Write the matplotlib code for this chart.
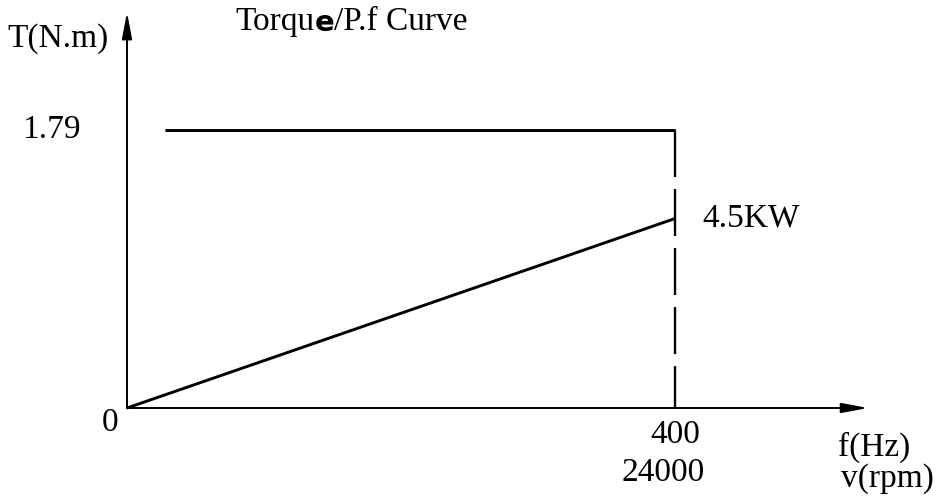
import matplotlib
matplotlib.use("Agg")
import matplotlib.pyplot as plt

# chart values
freq_hz = [0, 400]              # frequency axis marks
rpm_label = "24000"             # speed at 400 Hz
torque_x = [28, 400]            # constant torque segment (Hz)
torque_y = [1.79, 1.79]         # N.m
power_x = [0, 400]              # power line (Hz)
power_y = [0, 1.22]             # drawn in torque units
rated_power = "4.5KW"

# pixel scale of the drawing
px_hz = 548 / 400
px_nm = 278 / 1.79
W, H = 938, 497
ox, oy = 127, 408               # origin in pixels

fig = plt.figure(figsize=(W / 100, H / 100), dpi=100)
ax = fig.add_axes([0, 0, 1, 1])
ax.set_xlim(-ox / px_hz, (W - ox) / px_hz)
ax.set_ylim(-(H - oy) / px_nm, oy / px_nm)
ax.axis("off")

fnt = dict(family="Liberation Serif", size=24, color="black")

# axes with arrow heads
arrow = dict(arrowstyle="-|>,head_length=1.6,head_width=0.3", color="black",
             lw=1.4, shrinkA=0, shrinkB=0, mutation_scale=10)
ax.annotate("", xy=(0, 2.55), xytext=(0, 0), arrowprops=arrow)
ax.annotate("", xy=(541, 0), xytext=(0, 0), arrowprops=arrow)

# curves
ax.plot(torque_x, torque_y, color="black", lw=2.1, solid_capstyle="butt")
ax.plot([freq_hz[1], freq_hz[1]], [torque_y[1], 0], color="black", lw=1.7,
        dashes=(19.9, 5.1))
ax.plot(power_x, power_y, color="black", lw=2.1, solid_capstyle="butt")

# labels
ax.text(-50, 2.38, "T(N.m)", ha="center", va="center", **fnt)
t1 = ax.text(79, 2.485, "Torqu", ha="left", va="center", **fnt)
t2 = ax.annotate("e", xy=(1, 0), xycoords=t1, ha="left", va="bottom",
                 family="DejaVu Sans", weight="bold", size=21)
ax.annotate("/P.f Curve", xy=(1, 0), xycoords=t2, ha="left", va="bottom", **fnt)
ax.text(-55, torque_y[0], "1.79", ha="center", va="center", **fnt)
ax.text(-12.4, -0.097, "0", ha="center", va="center", **fnt)
ax.text(power_x[1] + 20, power_y[1], rated_power, ha="left", va="center", **fnt)
ax.text(freq_hz[1], -0.174, str(freq_hz[1]), ha="center", va="center", **fnt)
ax.text(freq_hz[1] - 9, -0.42, rpm_label, ha="center", va="center", **fnt)
ax.text(519, -0.255, "f(Hz)", ha="left", va="center", **fnt)
ax.text(521, -0.455, "v(rpm)", ha="left", va="center", **fnt)

fig.savefig("out.png", dpi=100)
